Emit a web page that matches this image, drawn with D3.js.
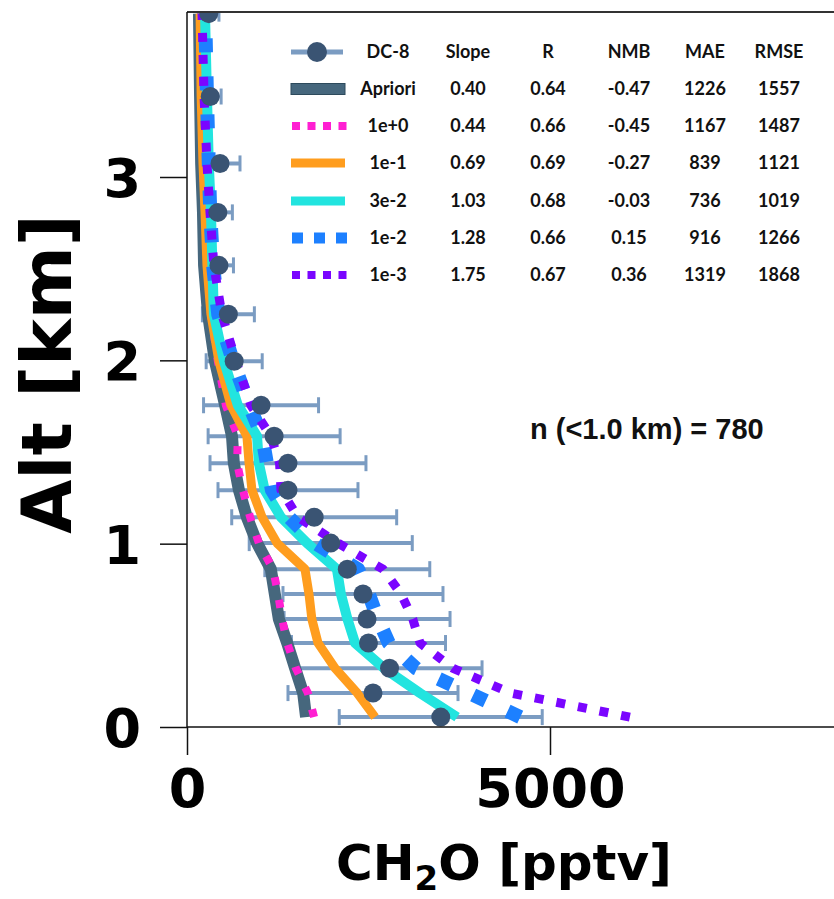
<!DOCTYPE html>
<html>
<head>
<meta charset="utf-8">
<script src="https://cdn.jsdelivr.net/npm/d3@7"></script>
<style>
html,body{margin:0;padding:0;background:#fff;}
svg{display:block;}
</style>
</head>
<body>
<svg id="chart" width="834" height="899"></svg>
<script>
// ---- data ----
const altitudes = [0.054, 0.185, 0.32, 0.458, 0.589, 0.725, 0.861, 1.003, 1.144, 1.292, 1.439, 1.586, 1.755, 1.995, 2.251, 2.518, 2.807, 3.074, 3.439, 3.891];
const dc8Mean = [3495, 2562, 2790, 2500, 2480, 2424, 2208, 1980, 1752, 1391, 1391, 1200, 1020, 650, 570, 440, 425, 455, 320, 300];
const dc8Std  = [1398, 1171, 1274, 1061, 1143, 1102, 1136, 1123, 1136, 964, 1074, 909, 792, 386, 358, 200, 200, 275, 150, 140];
const apriori = [1640, 1600, 1490, 1380, 1265, 1210, 1155, 965, 825, 715, 645, 620, 525, 385, 290, 235, 220, 195, 180, 165];
const run1e0  = [1750, 1665, 1500, 1380, 1310, 1255, 1185, 990, 870, 770, 690, 700, 535, 425, 330, 275, 248, 220, 205, 195];
const run1e1  = [2590, 2345, 2040, 1805, 1720, 1680, 1625, 1240, 1035, 895, 855, 825, 605, 440, 330, 275, 248, 220, 195, 180];
const run3e2  = [3720, 3210, 2715, 2315, 2210, 2120, 2065, 1655, 1295, 1070, 990, 965, 700, 510, 370, 350, 330, 300, 275, 248];
const run1e2  = [4590, 3885, 3155, 2780, 2630, 2505, 2355, 1765, 1405, 1170, 1100, 1035, 855, 635, 430, 360, 320, 300, 275, 250];
const run1e3  = [6100, 4460, 3665, 3210, 3110, 2950, 2700, 2080, 1530, 1295, 1275, 1155, 880, 675, 480, 370, 317, 275, 235, 207];

const legendHeader = ["DC-8", "Slope", "R", "NMB", "MAE", "RMSE"];
const legendNames  = ["Apriori", "1e+0", "1e-1", "3e-2", "1e-2", "1e-3"];
const statSlope = ["0.40", "0.44", "0.69", "1.03", "1.28", "1.75"];
const statR     = ["0.64", "0.66", "0.69", "0.68", "0.66", "0.67"];
const statNMB   = ["-0.47", "-0.45", "-0.27", "-0.03", "0.15", "0.36"];
const statMAE   = ["1226", "1167", "839", "736", "916", "1319"];
const statRMSE  = ["1557", "1487", "1121", "1019", "1266", "1868"];

const xTicks = [0, 5000];
const yTicks = [0, 1, 2, 3];
const annotation = "n (<1.0 km) = 780";

// ---- styles ----
const series = [
  {name: "Apriori", values: apriori, color: "#46677d", width: 12, dash: null},
  {name: "1e+0", values: run1e0, color: "#ff1fd2", width: 8, dash: "8,15"},
  {name: "1e-1", values: run1e1, color: "#ff9d1e", width: 9, dash: null},
  {name: "3e-2", values: run3e2, color: "#22e4df", width: 10, dash: null},
  {name: "1e-2", values: run1e2, color: "#1d80ff", width: 14, dash: "14,24"},
  {name: "1e-3", values: run1e3, color: "#7a05ff", width: 9, dash: "9,13"}
];

(function () {
const svg = d3.select("#chart");
const pLeft = 187, pBottom = 727, pTop = 12, pRight = 834;

const x = d3.scaleLinear().domain([0, 5000]).range([pLeft, 550]);
const y = d3.scaleLinear().domain([0, 3]).range([pBottom, 177]);

svg.append("defs").append("clipPath").attr("id", "plotclip")
  .append("rect").attr("x", pLeft).attr("y", pTop).attr("width", pRight - pLeft).attr("height", pBottom - pTop);

const plot = svg.append("g").attr("clip-path", "url(#plotclip)");

// error bars
const barColor = "#7b9cc2";
const eb = plot.append("g");
altitudes.forEach((a, i) => {
  const lo = dc8Mean[i] - dc8Std[i], hi = dc8Mean[i] + dc8Std[i];
  eb.append("line").attr("x1", x(lo)).attr("x2", x(hi)).attr("y1", y(a)).attr("y2", y(a))
    .attr("stroke", barColor).attr("stroke-width", 4);
  [lo, hi].forEach(v => {
    eb.append("line").attr("x1", x(v)).attr("x2", x(v)).attr("y1", y(a) - 8).attr("y2", y(a) + 8)
      .attr("stroke", barColor).attr("stroke-width", 3);
  });
});

// model lines
const line = d3.line().x(d => x(d[0])).y(d => y(d[1]));
series.forEach(s => {
  const pts = s.values.map((v, i) => [v, altitudes[i]]);
  const p = plot.append("path").datum(pts).attr("d", line)
    .attr("fill", "none").attr("stroke", s.color).attr("stroke-width", s.width)
    .attr("stroke-linejoin", "round");
  if (s.dash) p.attr("stroke-dasharray", s.dash).attr("stroke-linecap", "butt");
});

// DC-8 dots
plot.append("g").selectAll("circle").data(altitudes).join("circle")
  .attr("cx", (a, i) => x(dc8Mean[i])).attr("cy", a => y(a)).attr("r", 9.5)
  .attr("fill", "#3a5473");

// axes frame
svg.append("line").attr("x1", pLeft).attr("x2", pRight).attr("y1", pTop).attr("y2", pTop)
  .attr("stroke", "#333").attr("stroke-width", 2);
const xAxis = d3.axisBottom(x).tickValues(xTicks).tickSize(28).tickFormat(d3.format("d"));
const gx = svg.append("g").attr("transform", `translate(0,${pBottom})`).call(xAxis);
gx.select(".domain").attr("d", `M${pLeft},0H${pRight}`).attr("stroke", "#111").attr("stroke-width", 1.5);
gx.selectAll(".tick line").attr("stroke", "#111").attr("stroke-width", 1.5);
gx.selectAll(".tick text").attr("font-family", "DejaVu Sans").attr("font-weight", "bold")
  .attr("font-size", 54).attr("fill", "#000").attr("dy", "0.71em").attr("y", 42);

const yAxis = d3.axisLeft(y).tickValues(yTicks).tickSize(27).tickFormat(d3.format("d"));
const gy = svg.append("g").attr("transform", `translate(${pLeft},0)`).call(yAxis);
gy.select(".domain").attr("d", `M0,${pTop}V${pBottom}`).attr("stroke", "#111").attr("stroke-width", 1.5);
gy.selectAll(".tick line").attr("stroke", "#111").attr("stroke-width", 1.5);
gy.selectAll(".tick text").attr("font-family", "DejaVu Sans").attr("font-weight", "bold")
  .attr("font-size", 54).attr("fill", "#000").attr("x", -46).attr("dy", "0.36em");

// axis labels
svg.append("text").attr("transform", "translate(71,374) rotate(-90)")
  .attr("text-anchor", "middle").attr("font-family", "DejaVu Sans").attr("font-weight", "bold")
  .attr("font-size", 70).attr("fill", "#000").text("Alt [km]");

const xl = svg.append("text").attr("x", 504).attr("y", 880).attr("text-anchor", "middle")
  .attr("font-family", "DejaVu Sans").attr("font-weight", "bold").attr("font-size", 50).attr("fill", "#000");
xl.append("tspan").text("CH");
xl.append("tspan").attr("font-size", 34).attr("dy", 10).text("2");
xl.append("tspan").attr("dy", -10).text("O [pptv]");

// annotation
svg.append("text").attr("x", 530).attr("y", 439).attr("font-family", "Liberation Sans").attr("font-weight", "bold")
  .attr("font-size", 29).attr("fill", "#111").text(annotation);

// legend
const lg = svg.append("g");
const rowsY = [52, 89, 126, 163, 201, 238, 275];
const colX = [388, 468, 548, 629, 705, 779];
function ltext(xp, yp, t) {
  lg.append("text").attr("x", xp).attr("y", yp).attr("dy", "0.36em").attr("text-anchor", "middle")
    .attr("font-family", "Lato").attr("font-weight", "bold").attr("font-size", 18)
    .attr("fill", "#111").text(t);
}
legendHeader.forEach((h, j) => ltext(colX[j], rowsY[0], h));
legendNames.forEach((n, i) => {
  const r = rowsY[i + 1];
  ltext(colX[0], r, n);
  ltext(colX[1], r, statSlope[i]);
  ltext(colX[2], r, statR[i]);
  ltext(colX[3], r, statNMB[i]);
  ltext(colX[4], r, statMAE[i]);
  ltext(colX[5], r, statRMSE[i]);
});
// symbols
lg.append("line").attr("x1", 291).attr("x2", 343).attr("y1", rowsY[0]).attr("y2", rowsY[0])
  .attr("stroke", barColor).attr("stroke-width", 5);
lg.append("circle").attr("cx", 317).attr("cy", rowsY[0]).attr("r", 10).attr("fill", "#3a5473");
series.forEach((s, i) => {
  const r = rowsY[i + 1];
  if (!s.dash) {
    const h = s.name === "Apriori" ? 11 : 9;
    lg.append("rect").attr("x", 291).attr("y", r - h / 2).attr("width", 54).attr("height", h)
      .attr("fill", s.color).attr("stroke", s.name === "Apriori" ? "#2d4a5c" : "none").attr("stroke-width", 1);
  } else {
    const sz = s.name === "1e-2" ? 11 : 8;
    const n = s.name === "1e-2" ? 3 : 4;
    const step = s.name === "1e-2" ? 22 : 15.5;
    for (let k = 0; k < n; k++) {
      lg.append("rect").attr("x", 292 + k * step).attr("y", r - sz / 2).attr("width", sz).attr("height", sz)
        .attr("fill", s.color);
    }
  }
});
})();
</script>
</body>
</html>
